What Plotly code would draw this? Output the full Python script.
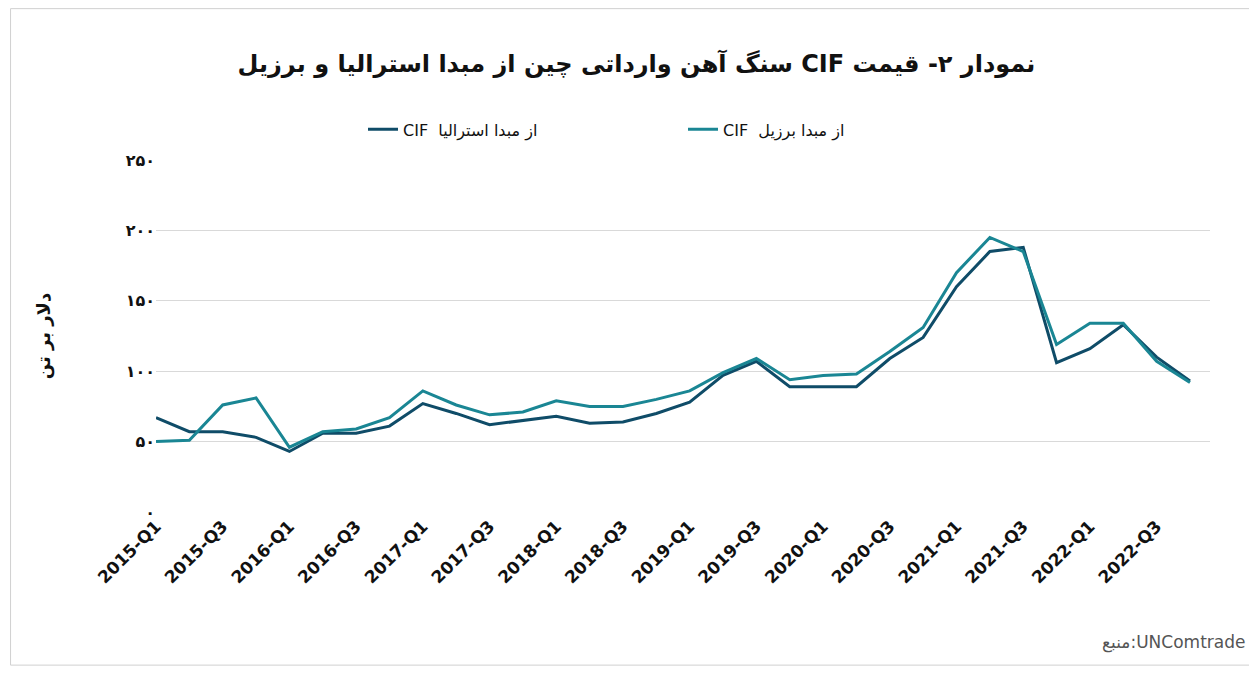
import plotly.graph_objects as go

quarters = [f"{y}-Q{q}" for y in range(2015, 2023) for q in range(1, 5)]
australia = [67, 57, 57, 53, 43, 56, 56, 61, 77, 70, 62, 65, 68, 63, 64, 70,
             78, 97, 107, 89, 89, 89, 109, 124, 160, 185, 188, 106, 116, 133, 110, 93]
brazil = [50, 51, 76, 81, 46, 57, 59, 67, 86, 76, 69, 71, 79, 75, 75, 80,
          86, 99, 109, 94, 97, 98, 114, 131, 170, 195, 185, 119, 134, 134, 107, 92]
y_ticks = [0, 50, 100, 150, 200, 250]
y_labels = ["۰", "۵۰", "۱۰۰", "۱۵۰", "۲۰۰", "۲۵۰"]

RLE, PDF = "\u202b", "\u202c"

fig = go.Figure()
fig.add_trace(go.Scatter(x=quarters, y=australia, mode="lines",
                         name=RLE + "از مبدا استرالیا  CIF" + PDF,
                         line=dict(color="#0f4c68", width=3)))
fig.add_trace(go.Scatter(x=quarters, y=brazil, mode="lines",
                         name=RLE + "از مبدا برزیل  CIF" + PDF,
                         line=dict(color="#1a8694", width=3)))

fig.update_layout(
    width=1257, height=677,
    paper_bgcolor="white", plot_bgcolor="white",
    font=dict(family="DejaVu Sans", color="#222"),
    title=dict(text=RLE + "<b>نمودار ۲- قیمت CIF سنگ آهن وارداتی چین از مبدا استرالیا و برزیل</b>" + PDF,
               x=0.5, y=0.918, xanchor="center", yanchor="middle",
               font=dict(size=24, color="#111")),
    legend=dict(orientation="h", x=0.5, y=1.087, xanchor="center", yanchor="middle",
                font=dict(size=16, color="#111"), traceorder="normal",
                entrywidth=275, entrywidthmode="pixels"),
    margin=dict(l=148, r=55, t=152, b=173, autoexpand=False),
    xaxis=dict(tickangle=-45, tickvals=quarters[::2], showgrid=False, showline=False,
               tickfont=dict(size=17, color="#111", family="DejaVu Sans", weight="bold"),
               ticks="", range=[0, 31.6]),
    yaxis=dict(range=[0, 250], tickvals=y_ticks, ticktext=y_labels, showgrid=True,
               gridcolor="#d9d9d9", zeroline=False,
               tickfont=dict(size=16, color="#111", weight="bold"),
               title=dict(text="<b>دلار بر تن</b>", font=dict(size=18, color="#111"), standoff=70)),
    shapes=[dict(type="rect", xref="paper", yref="paper", x0=-0.138, x1=1.049, y0=-0.435, y1=1.43,
                 line=dict(color="#d0d0d0", width=1))],
    annotations=[dict(text="منبع:UNComtrade", xref="paper", yref="paper", x=1.035, y=-0.37,
                      xanchor="right", yanchor="middle", showarrow=False,
                      font=dict(size=17, color="#555"))],
)
fig.write_html("out.html")
